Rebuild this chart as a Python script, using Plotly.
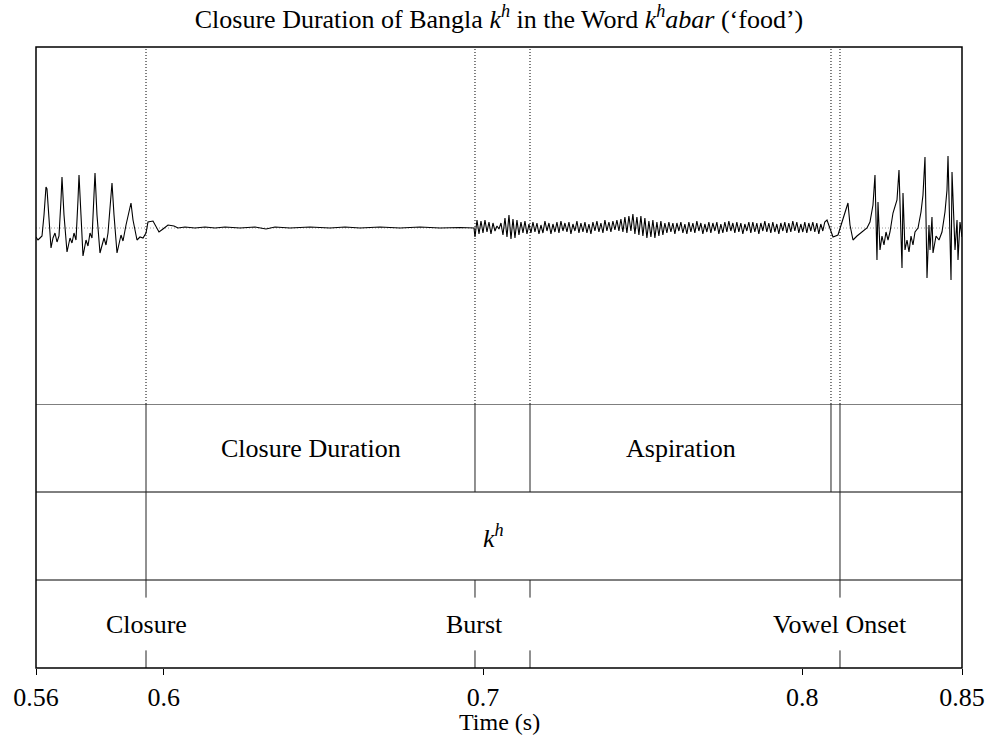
import plotly.graph_objects as go

# ---------------- data ----------------
# Waveform: voiced part before the closure (time ms, amplitude a.u.)
left_t_ms = [560.00, 560.63, 561.25, 561.88, 562.51, 563.13, 563.44, 564.07, 564.70, 565.32,
             565.95, 566.58, 567.20, 567.83, 568.14, 568.77, 569.71, 570.65, 571.27, 571.90,
             572.53, 573.15, 573.47, 574.09, 574.72, 575.66, 576.28, 576.91, 577.54, 578.16,
             578.48, 579.10, 580.04, 581.30, 581.92, 582.55, 583.17, 583.80, 584.43, 585.37,
             586.62, 587.25, 588.19, 588.81, 589.75, 590.38, 591.63, 592.57, 593.51, 594.45,
             595.07, 596.64, 597.58, 598.52, 599.77, 601.34, 603.22, 604.47, 606.66, 609.79,
             612.93, 616.06, 619.19, 623.89, 628.58, 632.03, 634.85, 639.54, 645.81, 652.07,
             656.77, 661.47, 667.73, 674.01, 680.26, 686.52, 692.78, 697.17]
left_amp = [-9, -12, -10, -8, 13, 41, 39, 3, -20, -10,
            -5, -14, -8, 28, 51, 13, -24, -10, -15, -5,
            -12, 28, 53, 13, -28, -12, -18, -5, -10, 33,
            55, 13, -25, -10, -17, -5, 18, 45, 13, -25,
            -7, -13, 3, 13, 25, 8, -12, -9, -10, -5,
            6, 7, 1, -4, -1, 3, 2, 0, 1, 0,
            1, 0, 1, 0, 1, -1, 1, 0, 1, 0,
            1, 0, 1, 0, 1, 0, 0.5, 0]

# Burst + aspiration noise, sampled every noise_step seconds from noise_start
noise_start = 0.69748
noise_step = 0.000626
noise_amp = [-9, 8, -6, 7, -5, 8, -4, 6, -6, 5, -3,
             2, -1,
             5, -7, 10, -9, 13, -11, 9, -10, 8, -7,
             6, -5, 7, -6, 4,
             -5, 6, -4, 5, -6, 3, -5, 7, -3, 5,
             -6, 4, -4, 6, -5, 7, -3, 5, -4, 6,
             -6, 4, -3, 7, -5, 5, -4, 6, -5, 4,
             -6, 6, -3, 7, -4, 5, -5, 8, -3, 6,
             -4, 7, -2, 8, -3,
             9, -4, 11, -5, 12, -3, 14, -6, 11, -7, 12, -8, 10, -10, 7, -9, 8, -10, 6, -8, 7, -7, 5,
             -5, 6, -4, 5, -6, 5, -3, 6, -5, 4,
             -6, 6, -4, 5, -5, 7, -3, 5, -6, 4,
             -4, 6, -5, 5, -3, 6, -6, 4, -5, 6,
             -4, 7, -3, 5, -5, 6, -4, 5, -6, 4,
             -3, 6, -5, 6, -4, 5, -6, 5, -3, 7,
             -4, 5, -5, 6, -4, 4, -6, 5, -3, 6,
             -5, 5, -4, 7, -3, 6, -5, 4, -4, 6,
             -5, 5, -3, 6, -4, 5, -6, 4, -3, 6]

# Vowel onset part (time ms, amplitude a.u.)
right_t_ms = [807.72, 808.66, 809.60, 811.16, 812.42, 813.67, 814.29, 814.92, 815.86, 817.11,
              818.68, 820.24, 821.18, 822.12, 822.75, 823.37, 823.69, 824.32, 824.94, 825.57,
              826.20, 826.83, 827.45, 828.39, 829.64, 830.27, 831.21, 831.52, 832.15, 832.78,
              833.40, 834.03, 834.65, 835.28, 836.22, 837.16, 837.78, 838.41, 839.04, 839.66,
              839.98, 840.60, 840.92, 841.86, 842.80, 843.73, 844.67, 845.30, 845.62, 846.56,
              846.87, 847.81, 848.44, 848.75, 849.37, 850.00]
right_amp = [8, 0, -9, -7, 6, 20, 25, 3, -12, -8,
             -4, 0, 6, 23, 53, -32, 26, -22, -8, -17,
             -4, -12, -4, 15, 28, 58, -40, 35, -22, -12,
             -24, -8, -17, -4, 0, 16, 33, 71, -50, 3,
             -22, 11, -25, -8, -12, -4, 16, 38, 72, -52,
             56, -22, 8, -32, 6, -9]

# TextGrid annotation
tier1_bounds = [0.59445, 0.69748, 0.71471, 0.80897, 0.81179]
tier1_labels = [("Closure Duration", 0.59445, 0.69748), ("Aspiration", 0.71471, 0.80897)]
tier2_bounds = [0.59445, 0.81179]
tier2_labels = [("<i>k<sup>h</sup></i>", 0.59445, 0.81179)]
tier3_points = [0.59445, 0.69748, 0.71471, 0.81179]
tier3_labels = [("Closure", 0.59445), ("Burst", 0.69748), ("Vowel Onset", 0.81179)]

tick_vals = [0.56, 0.6, 0.7, 0.8, 0.85]
tick_text = ["0.56", "0.6", "0.7", "0.8", "0.85"]

# ---------------- figure ----------------
wave_t = [t / 1000 for t in left_t_ms]
wave_a = list(left_amp)
for i, a in enumerate(noise_amp):
    wave_t.append(noise_start + i * noise_step)
    wave_a.append(a)
wave_t += [t / 1000 for t in right_t_ms]
wave_a += right_amp

FONT = "Liberation Serif"
W, H = 989, 738
top, bottom = 47, 668
tier_split = (bottom - 404) / (bottom - top)

fig = go.Figure()
fig.add_trace(go.Scatter(x=wave_t, y=wave_a, mode="lines", yaxis="y2",
                         line=dict(color="black", width=1.1), hoverinfo="skip",
                         showlegend=False))

shapes = []
# zero line in waveform
shapes.append(dict(type="line", xref="paper", x0=0, x1=1, yref="y2", y0=0, y1=0,
                   line=dict(color="#9a9a9a", width=1, dash="1px,2px"), layer="below"))
# dotted boundary lines through waveform
for b in tier1_bounds:
    shapes.append(dict(type="line", xref="x", x0=b, x1=b, yref="y2 domain", y0=0, y1=1,
                       line=dict(color="black", width=1, dash="1px,2px")))
# tier separators
for yv in [1, 2, 3]:
    shapes.append(dict(type="line", xref="paper", x0=0, x1=1, yref="y", y0=yv, y1=yv,
                       line=dict(color="black", width=1)))
for b in tier1_bounds:
    shapes.append(dict(type="line", xref="x", x0=b, x1=b, yref="y", y0=2, y1=3,
                       line=dict(color="#222", width=1)))
for b in tier2_bounds:
    shapes.append(dict(type="line", xref="x", x0=b, x1=b, yref="y", y0=1, y1=2,
                       line=dict(color="#222", width=1)))
for p in tier3_points:
    shapes.append(dict(type="line", xref="x", x0=p, x1=p, yref="y", y0=0.8, y1=1,
                       line=dict(color="#222", width=1)))
    shapes.append(dict(type="line", xref="x", x0=p, x1=p, yref="y", y0=0, y1=0.2,
                       line=dict(color="#222", width=1)))
# frame
shapes.append(dict(type="rect", xref="paper", yref="paper", x0=0, x1=1, y0=0, y1=1,
                   line=dict(color="black", width=1.5)))

annotations = []
for txt, a, b in tier1_labels:
    annotations.append(dict(x=(a + b) / 2, y=2.5, xref="x", yref="y", text=txt,
                            showarrow=False, font=dict(family=FONT, size=26, color="black")))
for txt, a, b in tier2_labels:
    annotations.append(dict(x=(a + b) / 2, y=1.5, xref="x", yref="y", text=txt,
                            showarrow=False, font=dict(family=FONT, size=26, color="black")))
for txt, p in tier3_labels:
    annotations.append(dict(x=p, y=0.5, xref="x", yref="y", text=txt,
                            showarrow=False, font=dict(family=FONT, size=26, color="black")))
annotations.append(dict(x=0.5, y=-(722 - bottom) / (bottom - top), xref="paper", yref="paper",
                        text="Time (s)", showarrow=False, yanchor="middle",
                        font=dict(family=FONT, size=24, color="black")))

fig.update_layout(
    width=W, height=H,
    margin=dict(l=36, r=27, t=top, b=H - bottom, pad=0),
    paper_bgcolor="white", plot_bgcolor="white",
    title=dict(text="Closure Duration of Bangla <i>k<sup>h</sup></i> in the Word "
                    "<i>k<sup>h</sup>abar</i> (\u2018food\u2019)",
               x=(36 + 962) / 2 / W, xanchor="center", y=1 - 19 / H, yanchor="middle",
               yref="container", xref="container",
               font=dict(family=FONT, size=26, color="black")),
    xaxis=dict(range=[0.56, 0.85], tickvals=tick_vals, ticktext=tick_text,
               ticks="outside", ticklen=6, tickcolor="black", tickwidth=1,
               showgrid=False, zeroline=False, showline=False, automargin=False,
               tickfont=dict(family=FONT, size=26, color="black")),
    yaxis=dict(domain=[0, tier_split], range=[0, 3], showgrid=False, zeroline=False,
               showticklabels=False, ticks="", showline=False, fixedrange=True,
               automargin=False),
    yaxis2=dict(domain=[tier_split, 1], range=[-176, 181], showgrid=False, zeroline=False,
                showticklabels=False, ticks="", showline=False, anchor="x",
                automargin=False),
    shapes=shapes, annotations=annotations, showlegend=False,
)

fig.write_html("out.html", config={"displayModeBar": False},
               post_script="document.body.style.margin='0';"
                           "document.body.style.padding='0';"
                           "document.body.style.overflow='hidden';")
